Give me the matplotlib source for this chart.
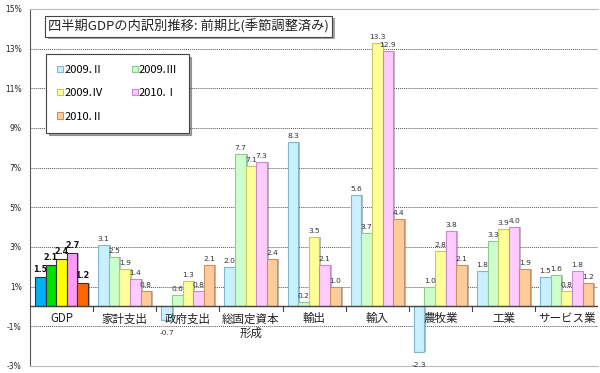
import matplotlib
matplotlib.use('Agg')
import matplotlib.pyplot as plt
import matplotlib.patheffects as pe
import numpy as np

plt.rcParams['font.family'] = ['Noto Sans CJK JP', 'DejaVu Sans']

categories = ['GDP', '家計支出', '政府支出', '総固定資本\n形成', '輸出', '輸入', '農牧業', '工業', 'サービス業']
series_names = ['2009.Ⅱ', '2009.Ⅲ', '2009.Ⅳ', '2010.Ⅰ', '2010.Ⅱ']

q2_2009 = [1.5, 3.1, -0.7, 2.0, 8.3, 5.6, -2.3, 1.8, 1.5]
q3_2009 = [2.1, 2.5, 0.6, 7.7, 0.2, 3.7, 1.0, 3.3, 1.6]
q4_2009 = [2.4, 1.9, 1.3, 7.1, 3.5, 13.3, 2.8, 3.9, 0.8]
q1_2010 = [2.7, 1.4, 0.8, 7.3, 2.1, 12.9, 3.8, 4.0, 1.8]
q2_2010 = [1.2, 0.8, 2.1, 2.4, 1.0, 4.4, 2.1, 1.9, 1.2]

y_ticks = [-3, -1, 1, 3, 5, 7, 9, 11, 13, 15]

pastel = ['#c9f0ff', '#ccffcc', '#ffff99', '#ffccff', '#ffcc99']
pastel_edge = ['#7fb8cc', '#8ccc8c', '#c8c860', '#cc88cc', '#cc9060']
vivid = ['#00b0f0', '#00e000', '#ffff00', '#ff99ff', '#ff6600']

fig = plt.figure(figsize=(6.0, 3.73), dpi=100)
ax = fig.add_axes([0.05, 0.019, 0.947, 0.957])

x = np.arange(len(categories))
w = 0.168
all_series = [q2_2009, q3_2009, q4_2009, q1_2010, q2_2010]

handles = []
for i, vals in enumerate(all_series):
    pos = x + (i - 2) * w
    # shadow
    ax.bar(pos + 0.03, vals, w, color='#666666', alpha=0.45,
           zorder=2, linewidth=0)
    colors = [vivid[i]] + [pastel[i]] * (len(categories) - 1)
    edges = ['#333333'] + [pastel_edge[i]] * (len(categories) - 1)
    bars = ax.bar(pos, vals, w, color=colors, edgecolor=edges,
                  linewidth=0.8, zorder=3, label=series_names[i])
    handles.append(bars)
    for j, (p, v) in enumerate(zip(pos, vals)):
        if v >= 0:
            yy, va = v + 0.15, 'bottom'
        else:
            yy, va = v - 0.5, 'top'
        if j == 0:
            ax.text(p, yy, f'{v:.1f}', ha='center', va=va, fontsize=5.8,
                    fontweight='bold', color='#111111', zorder=5,
                    family=['DejaVu Sans'])
        else:
            ax.text(p, yy, f'{v:.1f}', ha='center', va=va, fontsize=5.4,
                    color='#333333', zorder=5, family=['DejaVu Sans'])

# category labels just under the zero line
for xi, c in zip(x, categories):
    ax.text(xi, -0.3, c, ha='center', va='top', fontsize=8.3,
            color='#222222', linespacing=1.15, zorder=6)

ax.set_xlim(-0.5, len(categories) - 0.5)
ax.set_ylim(-3, 15)
ax.set_yticks(y_ticks)
ax.set_yticklabels([f'{t}%' for t in y_ticks], fontsize=5.5,
                   family=['DejaVu Sans'], color='#222222')
ax.tick_params(axis='y', length=0, pad=6)
ax.set_xticks([])

for t in y_ticks[1:-1]:
    ax.axhline(t, color='#555555', linestyle=(0, (1, 1)), linewidth=0.7, zorder=1)
ax.axhline(0, color='#444444', linewidth=1.0, zorder=4)
for b in np.arange(0.5, len(categories) - 0.5, 1.0):
    ax.plot([b, b], [0, -0.25], color='#444444', linewidth=0.8, zorder=4)

ax.spines['left'].set_color('#555555')
ax.spines['top'].set_color('#bbbbbb')
ax.spines['bottom'].set_color('#bbbbbb')
ax.spines['right'].set_visible(False)

title = ax.text(0.032, 0.952, '四半期GDPの内訳別推移: 前期比(季節調整済み)',
                transform=ax.transAxes, ha='left', va='center', fontsize=9.5,
                color='#222222', zorder=10,
                bbox=dict(boxstyle='square,pad=0.25', fc='white', ec='#444444', lw=0.8))
title.get_bbox_patch().set_path_effects([pe.withSimplePatchShadow(offset=(2, -2), alpha=0.5)])

# row-wise legend order for two columns
order = [0, 2, 4, 1, 3]
leg = ax.legend([handles[k] for k in order], [series_names[k] for k in order],
                loc='upper left', bbox_to_anchor=(0.019, 0.89), ncol=2,
                fontsize=8, frameon=True, fancybox=False, shadow=True,
                handlelength=0.5, handleheight=0.5, handletextpad=0.1,
                labelspacing=1.2, columnspacing=2.6, borderpad=1.0)
leg.get_frame().set_edgecolor('#444444')
leg.get_frame().set_linewidth(0.8)
leg.set_zorder(10)
for h, k in zip(leg.legend_handles, order):
    h.set_facecolor(pastel[k])
    h.set_edgecolor(pastel_edge[k])

fig.savefig('out.png', dpi=100)
